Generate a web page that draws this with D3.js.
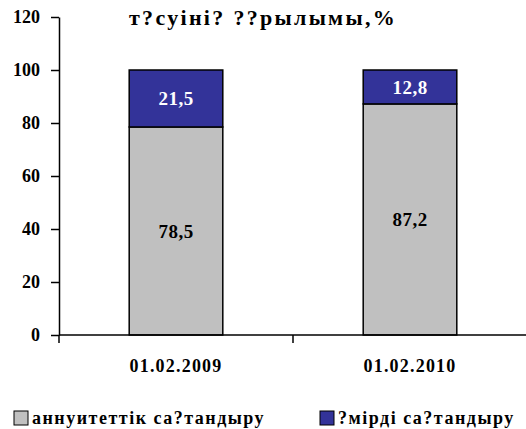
<!DOCTYPE html>
<html>
<head>
<meta charset="utf-8">
<script src="https://cdn.jsdelivr.net/npm/d3@7"></script>
</head>
<body style="margin:0;background:#fff">
<div id="chart"></div>
<script>
// data
const categories = ["01.02.2009", "01.02.2010"];
const annuity = [78.5, 87.2];
const life = [21.5, 12.8];
const seriesNames = ["аннуитеттік са?тандыру", "?мірді са?тандыру"];
const seriesColors = ["#c0c0c0", "#333399"];
const yTicks = [0, 20, 40, 60, 80, 100, 120];

const width = 526, height = 429;
const margin = { top: 17, right: -1, bottom: 94, left: 59 };
const FONT = "Liberation Serif";

let svg = d3.select("#chart")
    .append("svg")
    .attr("width", width)
    .attr("height", height);

let y = d3.scaleLinear()
    .domain([0, 120])
    .range([height - margin.bottom, margin.top]);

let x = d3.scaleBand()
    .domain(categories)
    .range([margin.left, width - margin.right])
    .paddingInner(0.6)
    .paddingOuter(0.3);

// stacked rows
let rows = categories.map(function (c, i) {
    return { cat: c, a: annuity[i], l: life[i] };
});

function boldText(sel, size) {
    return sel.attr("font-family", FONT)
        .attr("font-weight", "bold")
        .attr("font-size", size);
}

let g = svg.append("g");

// gray part
g.selectAll(".barA")
    .data(rows)
    .enter().append("rect")
    .attr("x", d => x(d.cat))
    .attr("y", d => y(d.a))
    .attr("width", x.bandwidth())
    .attr("height", d => y(0) - y(d.a))
    .attr("fill", seriesColors[0])
    .attr("stroke", "#000")
    .attr("stroke-width", 1.5);

// blue part
g.selectAll(".barL")
    .data(rows)
    .enter().append("rect")
    .attr("x", d => x(d.cat))
    .attr("y", d => y(d.a + d.l))
    .attr("width", x.bandwidth())
    .attr("height", d => y(d.a) - y(d.a + d.l))
    .attr("fill", seriesColors[1])
    .attr("stroke", "#000")
    .attr("stroke-width", 1.5);

// value labels
g.selectAll(".labA")
    .data(rows)
    .enter().append("text")
    .attr("x", d => x(d.cat) + x.bandwidth() / 2)
    .attr("y", d => (y(0) + y(d.a)) / 2)
    .attr("dy", "0.35em")
    .attr("text-anchor", "middle")
    .call(boldText, 19)
    .attr("letter-spacing", 0.5)
    .attr("fill", "#000")
    .text(d => String(d.a).replace(".", ","));

g.selectAll(".labL")
    .data(rows)
    .enter().append("text")
    .attr("x", d => x(d.cat) + x.bandwidth() / 2)
    .attr("y", d => (y(d.a) + y(d.a + d.l)) / 2)
    .attr("dy", "0.35em")
    .attr("text-anchor", "middle")
    .call(boldText, 19)
    .attr("letter-spacing", 0.5)
    .attr("fill", "#fff")
    .text(d => String(d.l).replace(".", ","));

// y axis
let yAxis = svg.append("g")
    .attr("transform", "translate(" + margin.left + ",0)")
    .call(d3.axisLeft(y).tickValues(yTicks).tickSize(8).tickSizeOuter(0).tickPadding(11));
yAxis.select(".domain").attr("stroke-width", 1.5);
yAxis.selectAll(".tick line").attr("stroke-width", 1.5);
yAxis.selectAll(".tick text")
    .call(boldText, 18)
    .attr("fill", "#000");

// x axis: line plus ticks at category boundaries
let x0 = margin.left, x1 = width;
svg.append("line")
    .attr("x1", x0).attr("x2", x1)
    .attr("y1", y(0)).attr("y2", y(0))
    .attr("stroke", "#000").attr("stroke-width", 1.5);

let bounds = [x0].concat(categories.map(c => x(c) + x.bandwidth() + x.step() * x.paddingInner() / 2));
svg.selectAll(".xtick")
    .data(bounds)
    .enter().append("line")
    .attr("x1", d => d).attr("x2", d => d)
    .attr("y1", y(0)).attr("y2", y(0) + 8)
    .attr("stroke", "#000").attr("stroke-width", 1.5);

svg.selectAll(".xlab")
    .data(categories)
    .enter().append("text")
    .attr("x", d => x(d) + x.bandwidth() / 2)
    .attr("y", y(0) + 37)
    .attr("text-anchor", "middle")
    .call(boldText, 18)
    .attr("letter-spacing", 1.2)
    .text(d => d);

// title
svg.append("text")
    .attr("x", 263)
    .attr("y", 25)
    .attr("text-anchor", "middle")
    .call(boldText, 22)
    .attr("letter-spacing", 2.3)
    .text("т?суіні? ??рылымы,%");

// legend
let legendX = [14, 320];
let leg = svg.selectAll(".legend")
    .data(seriesNames)
    .enter().append("g")
    .attr("transform", (d, i) => "translate(" + legendX[i] + ",411)");

leg.append("rect")
    .attr("width", 14).attr("height", 14)
    .attr("fill", (d, i) => seriesColors[i])
    .attr("stroke", "#000")
    .attr("stroke-width", 1);

leg.append("text")
    .attr("x", 18)
    .attr("y", 13)
    .call(boldText, 18)
    .attr("letter-spacing", 1.5)
    .text(d => d);
</script>
</body>
</html>
